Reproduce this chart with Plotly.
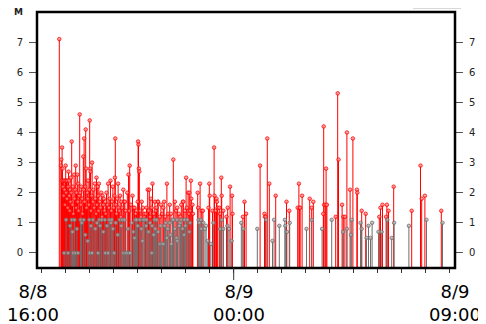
import plotly.graph_objects as go

# ---- data ----
red_times = [
 "2024-08-08 16:44","2024-08-08 16:48","2024-08-08 16:49","2024-08-08 16:50","2024-08-08 16:51","2024-08-08 16:52",
 "2024-08-08 16:53","2024-08-08 16:54","2024-08-08 16:55","2024-08-08 16:56","2024-08-08 16:57","2024-08-08 16:58",
 "2024-08-08 16:59","2024-08-08 17:00","2024-08-08 17:01","2024-08-08 17:02","2024-08-08 17:03","2024-08-08 17:04",
 "2024-08-08 17:05","2024-08-08 17:06","2024-08-08 17:07","2024-08-08 17:08","2024-08-08 17:09","2024-08-08 17:10",
 "2024-08-08 17:11","2024-08-08 17:12","2024-08-08 17:13","2024-08-08 17:14","2024-08-08 17:15","2024-08-08 17:17",
 "2024-08-08 17:18","2024-08-08 17:19","2024-08-08 17:21","2024-08-08 17:22","2024-08-08 17:24","2024-08-08 17:25",
 "2024-08-08 17:26","2024-08-08 17:27","2024-08-08 17:29","2024-08-08 17:30","2024-08-08 17:31","2024-08-08 17:32",
 "2024-08-08 17:34","2024-08-08 17:35","2024-08-08 17:36","2024-08-08 17:38","2024-08-08 17:39","2024-08-08 17:41",
 "2024-08-08 17:42","2024-08-08 17:44","2024-08-08 17:45","2024-08-08 17:46","2024-08-08 17:47","2024-08-08 17:49",
 "2024-08-08 17:50","2024-08-08 17:51","2024-08-08 17:52","2024-08-08 17:54","2024-08-08 17:55","2024-08-08 17:56",
 "2024-08-08 17:58","2024-08-08 17:59","2024-08-08 18:00","2024-08-08 18:01","2024-08-08 18:02","2024-08-08 18:03",
 "2024-08-08 18:05","2024-08-08 18:06","2024-08-08 18:08","2024-08-08 18:09","2024-08-08 18:11","2024-08-08 18:13",
 "2024-08-08 18:14","2024-08-08 18:16","2024-08-08 18:17","2024-08-08 18:18","2024-08-08 18:20","2024-08-08 18:21",
 "2024-08-08 18:22","2024-08-08 18:23","2024-08-08 18:25","2024-08-08 18:27","2024-08-08 18:29","2024-08-08 18:31",
 "2024-08-08 18:32","2024-08-08 18:34","2024-08-08 18:35","2024-08-08 18:37","2024-08-08 18:39","2024-08-08 18:40",
 "2024-08-08 18:42","2024-08-08 18:44","2024-08-08 18:46","2024-08-08 18:48","2024-08-08 18:50","2024-08-08 18:52",
 "2024-08-08 18:54","2024-08-08 18:56","2024-08-08 18:58","2024-08-08 19:00","2024-08-08 19:02","2024-08-08 19:03",
 "2024-08-08 19:04","2024-08-08 19:05","2024-08-08 19:07","2024-08-08 19:09","2024-08-08 19:11","2024-08-08 19:12",
 "2024-08-08 19:14","2024-08-08 19:16","2024-08-08 19:18","2024-08-08 19:19","2024-08-08 19:21","2024-08-08 19:24",
 "2024-08-08 19:26","2024-08-08 19:28","2024-08-08 19:30","2024-08-08 19:34","2024-08-08 19:37","2024-08-08 19:39",
 "2024-08-08 19:40","2024-08-08 19:43","2024-08-08 19:47","2024-08-08 19:50","2024-08-08 19:52","2024-08-08 19:55",
 "2024-08-08 19:57","2024-08-08 20:00","2024-08-08 20:01","2024-08-08 20:02","2024-08-08 20:03","2024-08-08 20:04",
 "2024-08-08 20:06","2024-08-08 20:08","2024-08-08 20:10","2024-08-08 20:13","2024-08-08 20:16","2024-08-08 20:19",
 "2024-08-08 20:20","2024-08-08 20:22","2024-08-08 20:25","2024-08-08 20:27","2024-08-08 20:29","2024-08-08 20:31",
 "2024-08-08 20:33","2024-08-08 20:35","2024-08-08 20:37","2024-08-08 20:40","2024-08-08 20:43","2024-08-08 20:45",
 "2024-08-08 20:47","2024-08-08 20:50","2024-08-08 20:51","2024-08-08 20:55","2024-08-08 20:58","2024-08-08 21:01",
 "2024-08-08 21:04","2024-08-08 21:06","2024-08-08 21:09","2024-08-08 21:13","2024-08-08 21:16","2024-08-08 21:20",
 "2024-08-08 21:23","2024-08-08 21:29","2024-08-08 21:33","2024-08-08 21:36","2024-08-08 21:39","2024-08-08 21:43",
 "2024-08-08 21:47","2024-08-08 21:49","2024-08-08 21:53","2024-08-08 21:54","2024-08-08 21:58","2024-08-08 22:01",
 "2024-08-08 22:03","2024-08-08 22:06","2024-08-08 22:08",
 "2024-08-08 22:09","2024-08-08 22:11","2024-08-08 22:13","2024-08-08 22:14","2024-08-08 22:17","2024-08-08 22:18",
 "2024-08-08 22:30","2024-08-08 22:31","2024-08-08 22:36","2024-08-08 22:40","2024-08-08 22:43","2024-08-08 22:57",
 "2024-08-08 22:59","2024-08-08 23:00","2024-08-08 23:07","2024-08-08 23:11","2024-08-08 23:12","2024-08-08 23:15",
 "2024-08-08 23:17","2024-08-08 23:18","2024-08-08 23:20","2024-08-08 23:24","2024-08-08 23:26","2024-08-08 23:29",
 "2024-08-08 23:30","2024-08-08 23:34","2024-08-08 23:42","2024-08-08 23:45","2024-08-08 23:51","2024-08-08 23:56",
 "2024-08-08 23:57",
 "2024-08-09 00:23","2024-08-09 00:27","2024-08-09 00:31","2024-08-09 01:06","2024-08-09 01:17","2024-08-09 01:18",
 "2024-08-09 01:20","2024-08-09 01:24","2024-08-09 01:29","2024-08-09 01:45","2024-08-09 02:12","2024-08-09 02:19",
 "2024-08-09 02:40","2024-08-09 02:43","2024-08-09 02:45","2024-08-09 02:46","2024-08-09 02:51","2024-08-09 03:10",
 "2024-08-09 03:15","2024-08-09 03:19","2024-08-09 03:44","2024-08-09 03:45","2024-08-09 03:46","2024-08-09 03:50",
 "2024-08-09 03:51","2024-08-09 03:53","2024-08-09 04:15","2024-08-09 04:20","2024-08-09 04:22","2024-08-09 04:31",
 "2024-08-09 04:34","2024-08-09 04:38","2024-08-09 04:43","2024-08-09 04:51","2024-08-09 04:58","2024-08-09 05:08",
 "2024-08-09 05:09","2024-08-09 05:20","2024-08-09 05:30","2024-08-09 06:04","2024-08-09 06:07","2024-08-09 06:12",
 "2024-08-09 06:21","2024-08-09 06:23","2024-08-09 06:27","2024-08-09 06:40","2024-08-09 07:25","2024-08-09 07:47",
 "2024-08-09 07:50","2024-08-09 07:58","2024-08-09 08:39",
]
red_mag = [
 7.1,2.9,3.1,2.4,3.5,2.8, 2.2,2.4,1.9,2.4,2.1,1.6, 2.4,2.9,2.0,2.4,1.8,2.4, 1.5,2.2,2.7,2.4,1.9,1.4,
 2.1,1.7,2.5,2.0,3.7,1.6, 2.2,1.3,2.6,1.8,2.1,2.9, 1.5,2.0,2.6,1.7,2.3,1.4, 1.9,4.6,2.0,1.6,2.2,1.8,
 1.3,3.2,2.1,3.8,1.7,2.2, 4.1,2.8,1.5,2.0,1.8,2.4, 1.6,2.1,4.4,2.8,2.7,1.4, 1.9,3.0,1.7,2.1,1.5,2.3,
 1.8,1.3,2.5,1.6,2.2,1.9, 1.4,2.3,1.7,1.5,2.0,1.2, 1.9,1.6,1.8,1.4,1.7,1.3, 2.0,1.6,2.3,1.5,1.8,2.4,
 1.4,1.7,2.2,1.5,1.9,2.5, 3.8,1.6,1.3,1.8,2.3,1.5, 1.4,1.9,1.2,1.7,1.5,2.1, 1.7,1.7,1.4,2.0,2.6,1.4,
 2.9,1.6,1.9,1.5,1.5,1.3, 1.4,1.7,3.7,3.6,2.8,2.7, 1.4,1.2,1.7,1.5,1.3,1.1, 1.3,1.5,2.1,1.4,2.1,1.2,
 1.8,1.5,2.3,1.3,1.7,1.4, 1.5,1.7,1.7,1.2,1.6,1.3, 1.5,1.7,1.2,2.3,1.3,1.6, 1.3,3.1,1.7,1.4,1.5,1.3,
 1.2,1.6,1.7,1.7,1.4,2.5, 1.5,2.0,1.3,
 2.0,1.4,2.4,1.8,1.6,1.3, 2.0,1.5,2.3,1.4,1.4,1.5, 2.3,1.9,1.4,3.5,1.9,1.4, 1.8,1.7,1.5,1.5,1.3,2.5,
 1.9,1.4,1.2,1.5,2.2,1.9, 1.3,
 1.2,1.7,1.3,2.9,1.3,1.2, 1.2,3.8,2.3,1.9,1.7,1.4, 1.5,2.3,1.5,1.5,1.9,1.8, 1.5,1.7,1.3,4.2,1.6,1.6,
 2.8,1.6,1.2,5.3,3.1,1.6, 1.2,1.2,4.0,2.1,3.8,2.1, 2.0,1.4,1.3,1.2,1.5,1.6, 1.2,1.6,1.4,2.2,1.4,2.9,
 1.8,1.9,1.4,
]

gray_times = [
 "2024-08-08 16:56","2024-08-08 17:01","2024-08-08 17:06","2024-08-08 17:11","2024-08-08 17:15","2024-08-08 17:17",
 "2024-08-08 17:19","2024-08-08 17:22","2024-08-08 17:25","2024-08-08 17:28","2024-08-08 17:31","2024-08-08 17:37",
 "2024-08-08 17:40","2024-08-08 17:45","2024-08-08 17:49","2024-08-08 17:55","2024-08-08 17:59","2024-08-08 18:00",
 "2024-08-08 18:03","2024-08-08 18:06","2024-08-08 18:08","2024-08-08 18:14","2024-08-08 18:18","2024-08-08 18:21",
 "2024-08-08 18:24","2024-08-08 18:26","2024-08-08 18:30","2024-08-08 18:34","2024-08-08 18:38","2024-08-08 18:39",
 "2024-08-08 18:43","2024-08-08 18:46","2024-08-08 18:49","2024-08-08 18:53","2024-08-08 18:55","2024-08-08 18:58",
 "2024-08-08 19:01","2024-08-08 19:05","2024-08-08 19:10","2024-08-08 19:15","2024-08-08 19:19","2024-08-08 19:21",
 "2024-08-08 19:24","2024-08-08 19:27","2024-08-08 19:29","2024-08-08 19:32","2024-08-08 19:36","2024-08-08 19:37",
 "2024-08-08 19:41","2024-08-08 19:45","2024-08-08 19:49","2024-08-08 19:52","2024-08-08 19:54","2024-08-08 19:57",
 "2024-08-08 20:00","2024-08-08 20:05","2024-08-08 20:09","2024-08-08 20:12","2024-08-08 20:13","2024-08-08 20:17",
 "2024-08-08 20:21","2024-08-08 20:22","2024-08-08 20:27","2024-08-08 20:31","2024-08-08 20:35","2024-08-08 20:36",
 "2024-08-08 20:40","2024-08-08 20:42","2024-08-08 20:44","2024-08-08 20:47","2024-08-08 20:51","2024-08-08 20:55",
 "2024-08-08 20:57","2024-08-08 21:00","2024-08-08 21:04","2024-08-08 21:07","2024-08-08 21:10","2024-08-08 21:13",
 "2024-08-08 21:15","2024-08-08 21:20","2024-08-08 21:22","2024-08-08 21:24","2024-08-08 21:27","2024-08-08 21:29",
 "2024-08-08 21:33","2024-08-08 21:37","2024-08-08 21:38","2024-08-08 21:39","2024-08-08 21:44","2024-08-08 21:47",
 "2024-08-08 21:49","2024-08-08 21:52","2024-08-08 21:56","2024-08-08 21:57","2024-08-08 21:59","2024-08-08 22:04",
 "2024-08-08 22:09","2024-08-08 22:11","2024-08-08 22:32","2024-08-08 22:34","2024-08-08 22:38","2024-08-08 22:39",
 "2024-08-08 22:44","2024-08-08 22:48","2024-08-08 22:51","2024-08-08 22:55","2024-08-08 23:03","2024-08-08 23:09",
 "2024-08-08 23:26","2024-08-08 23:30","2024-08-08 23:34","2024-08-08 23:44","2024-08-08 23:48","2024-08-08 23:55",
 "2024-08-09 00:19","2024-08-09 00:24","2024-08-09 00:59","2024-08-09 01:21","2024-08-09 01:37","2024-08-09 01:41",
 "2024-08-09 01:54","2024-08-09 02:08","2024-08-09 02:09","2024-08-09 02:13","2024-08-09 02:20","2024-08-09 03:02",
 "2024-08-09 03:15","2024-08-09 03:41","2024-08-09 04:05","2024-08-09 04:33","2024-08-09 04:43","2024-08-09 04:53",
 "2024-08-09 04:55","2024-08-09 05:17","2024-08-09 05:20","2024-08-09 05:32","2024-08-09 05:37","2024-08-09 05:42",
 "2024-08-09 05:46","2024-08-09 06:02","2024-08-09 06:10","2024-08-09 06:24","2024-08-09 06:35","2024-08-09 06:41",
 "2024-08-09 07:18","2024-08-09 08:02","2024-08-09 08:42",
]
gray_mag = [
 0.0,1.1,0.0,0.9,1.1,0.7, 0.0,1.1,0.0,0.8,0.0,1.1, 1.0,1.1,0.6,0.4,1.1,0.0, 0.9,0.0,1.1,0.8,1.0,0.0,
 1.1,0.9,1.1,0.7,1.1,0.0, 0.9,0.0,1.1,1.0,1.1,0.8, 0.0,1.0,0.6,1.1,0.9,1.1, 0.0,1.1,0.0,0.0,0.8,0.0,
 0.0,1.0,0.7,0.5,1.1,1.1, 0.9,1.1,0.8,0.4,1.1,1.1, 0.9,1.1,0.7,1.0,0.0,0.9, 0.6,1.1,0.8,1.1,0.7,0.3,
 0.9,0.3,0.3,0.9,1.0,0.5, 0.8,1.0,0.6,0.3,1.1,1.1, 0.8,0.5,1.1,0.4,0.9,1.0, 1.1,0.8,0.6,1.1,0.9,1.1,
 0.7,1.0,1.1,1.0,1.1,0.8, 1.0,0.8,0.9,0.4,0.3,1.0, 0.8,1.1,0.8,0.9,0.8,0.4,
 1.0,0.8,0.8,1.1,0.4,1.1, 0.9,1.1,0.9,0.7,1.0,0.8, 1.1,0.8,1.1,0.7,0.8,0.6, 1.1,1.0,0.8,0.5,0.9,0.5,
 1.0,0.7,0.7,1.1,0.5,1.0, 0.9,1.1,1.0,
]

y_ticks = [0, 1, 2, 3, 4, 5, 6, 7]
y_floor = -0.5
y_top = 8.0
x_start = "2024-08-08 15:48:15"
x_end = "2024-08-09 09:13:15"
hour_ticks = ["2024-08-08 %02d:00" % h for h in range(16, 24)] + ["2024-08-09 %02d:00" % h for h in range(0, 10)]
label_ticks = ["2024-08-08 16:00", "2024-08-09 00:00", "2024-08-09 09:00"]
label_text = ["8/8<br>16:00", "8/9<br>00:00", "8/9<br>09:00"]
label_shift = [-9, 5, 5]
day_break = "2024-08-09 00:00"

RED = "rgb(255,0,0)"
GRAY = "rgb(110,110,110)"


def stem_trace(times, mags, color, fill):
    return go.Scatter(
        x=times, y=mags, mode="markers",
        marker=dict(size=3.5, color=fill, line=dict(color=color, width=0.8)),
        error_y=dict(type="data", symmetric=False,
                     array=[0] * len(mags),
                     arrayminus=[m - y_floor for m in mags],
                     width=0, thickness=1, color=color),
        showlegend=False, hoverinfo="x+y",
    )


fig = go.Figure()
fig.add_trace(stem_trace(red_times, red_mag, RED, "rgba(255,140,140,0.7)"))
fig.add_trace(stem_trace(gray_times, gray_mag, GRAY, "rgba(180,180,180,0.7)"))
fig.add_trace(go.Scatter(x=[], y=[], yaxis="y2", showlegend=False))

axis_font = dict(family="DejaVu Sans", size=10, color="#222")
fig.update_layout(
    width=478, height=316,
    margin=dict(l=29, r=31, t=4, b=56, autoexpand=False),
    paper_bgcolor="white", plot_bgcolor="white",
    font=dict(family="DejaVu Sans"),
    xaxis=dict(type="date", range=[x_start, x_end], tickvals=hour_ticks,
               showticklabels=False, ticks="outside", ticklen=4, tickwidth=1,
               tickcolor="#333", showgrid=False, zeroline=False, showline=False),
    yaxis=dict(range=[y_floor, y_top], tickvals=y_ticks, ticks="outside", ticklen=7,
               tickwidth=1, tickcolor="#555", tickfont=axis_font, ticklabelstandoff=4,
               showgrid=False, zeroline=False, showline=False),
    yaxis2=dict(range=[y_floor, y_top], tickvals=y_ticks, ticks="outside", ticklen=7,
                tickwidth=1, tickcolor="#555", tickfont=axis_font, overlaying="y",
                side="right", ticklabelstandoff=4,
                showgrid=False, zeroline=False, showline=False),
)

# plot border
fig.add_shape(type="rect", xref="paper", yref="paper", x0=0, x1=1, y0=0, y1=1,
              line=dict(color="black", width=2.5), layer="above")
# longer tick at the day change
fig.add_shape(type="line", xref="x", yref="paper", x0=day_break, x1=day_break,
              y0=0, y1=-0.047, line=dict(color="#333", width=1))
# faint box edge at top right
fig.add_shape(type="rect", xref="paper", yref="paper", x0=0.9, x1=1.014, y0=1.0145, y1=1.1,
              line=dict(color="#cccccc", width=1))

for t, txt, sh in zip(label_ticks, label_text, label_shift):
    fig.add_annotation(x=t, y=0, xref="x", yref="paper", text=txt, showarrow=False,
                       xanchor="center", yanchor="top", xshift=sh, yshift=-12,
                       borderpad=0,
                       font=dict(family="DejaVu Sans", size=18, color="black"))

fig.add_annotation(x=-0.045, y=1.0, xref="paper", yref="paper", text="<b>M</b>",
                   showarrow=False, xanchor="center", yanchor="middle",
                   font=dict(family="DejaVu Sans", size=9, color="#222"))

fig.write_html("out.html")
